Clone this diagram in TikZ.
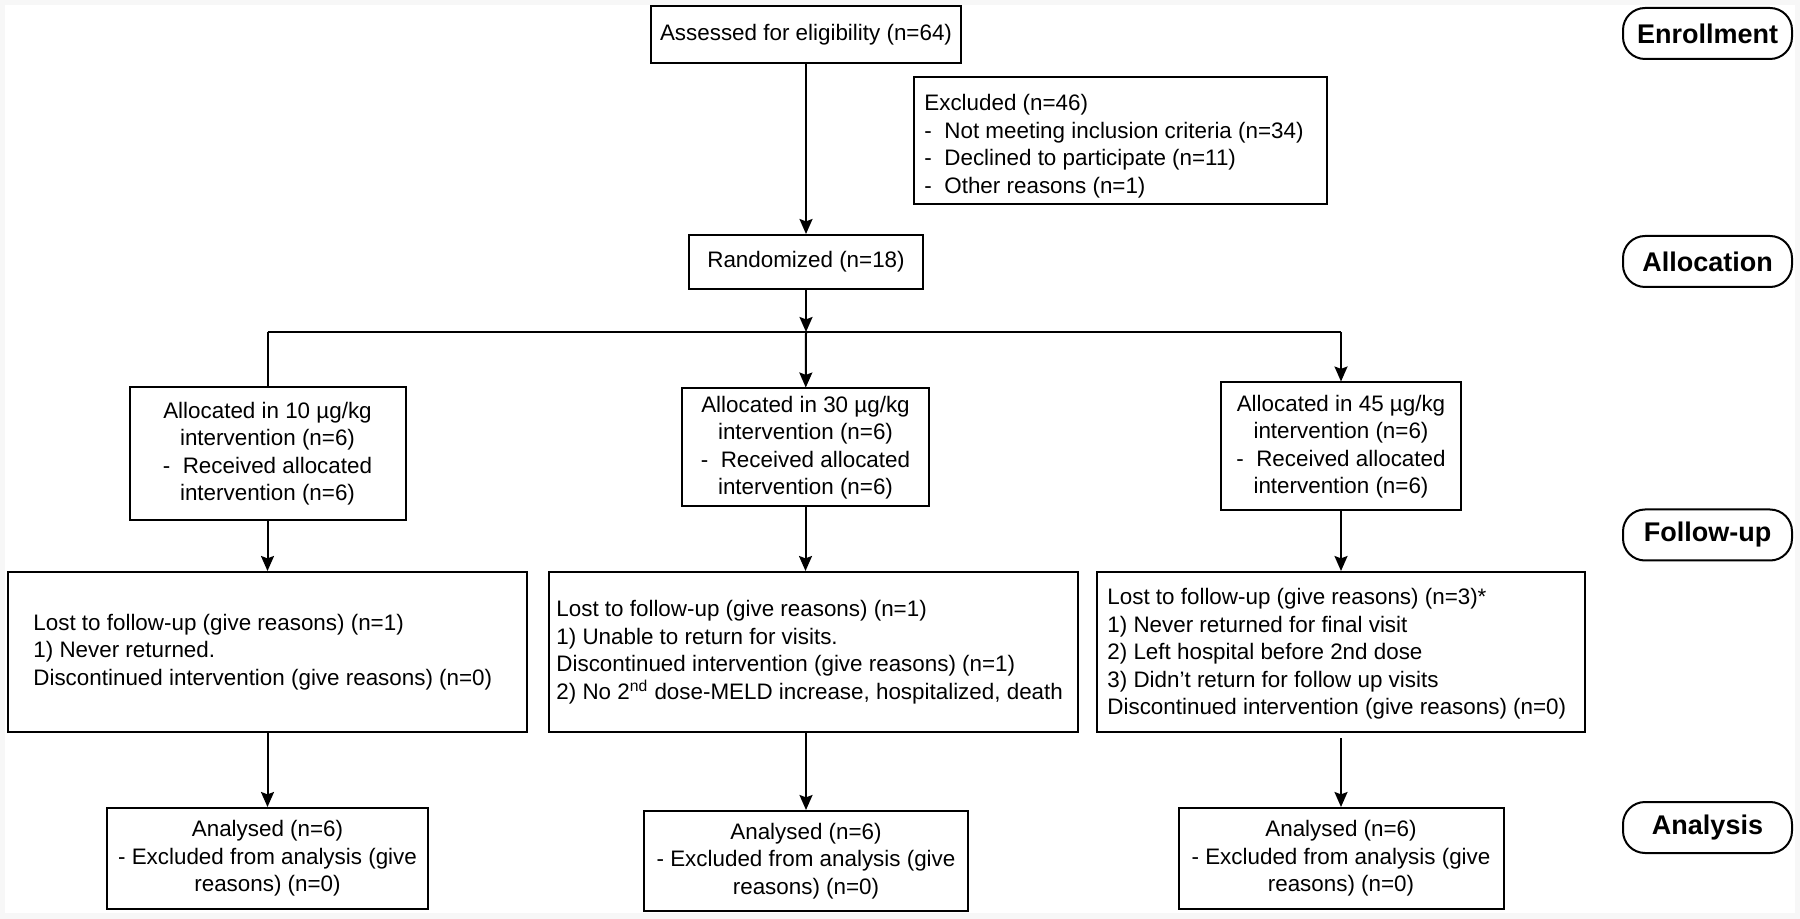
\documentclass[tikz,border=0pt]{standalone}
\usepackage{fontspec}
\setmainfont{Liberation Sans}
\usetikzlibrary{arrows.meta}
\newcommand{\bodyfont}{\fontsize{11.2}{13.75}\selectfont}
\newcommand{\labfont}{\fontsize{13.5}{16}\selectfont\bfseries}
\tikzset{
  box/.style={draw, line width=1pt, inner sep=0pt, font=\bodyfont, align=center},
  txt/.style={inner sep=0pt, font=\bodyfont, align=left, anchor=west},
  phase/.style={draw, line width=1pt, rounded corners=11pt, inner sep=0pt,
    minimum width=84.5pt, minimum height=25.5pt, font=\labfont},
  conn/.style={line width=1pt},
  arr/.style={line width=1pt, -{Stealth[length=7.5pt,width=6.5pt,inset=1.2pt]}},
}
\begin{document}
\begin{tikzpicture}[x=0.5pt,y=-0.5pt]
\useasboundingbox (0,0) rectangle (1800,919);
\fill[black!3] (0,0) rectangle (1800,919);
\fill[white] (5,5) rectangle (1795,913);

% phase labels
\node[phase] (enr) at (1707.5,33.5) {Enrollment};
\node[phase] (alc) at (1707.5,261.5) {Allocation};
\node[phase] (fol) at (1707.5,535) {Follow-up};
\node[phase] (ana) at (1707.5,827.5) {Analysis};

% enrollment
\node[box, minimum width=155pt, minimum height=28.5pt] (ass) at (806,35) {Assessed for eligibility (n=64)};
\node[box, minimum width=206.5pt, minimum height=63.5pt] (exc) at (1120.5,140.5) {};
\node[txt] (exct) at ([xshift=5.5pt,yshift=-2.8pt]exc.west) {Excluded (n=46)\\
\makebox[10pt][l]{-}Not meeting inclusion criteria (n=34)\\
\makebox[10pt][l]{-}Declined to participate (n=11)\\
\makebox[10pt][l]{-}Other reasons (n=1)};

\node[box, minimum width=117pt, minimum height=27pt] (rand) at (806,262) {Randomized (n=18)};

% allocation
\node[box, minimum width=138pt, minimum height=66.5pt] (a10) at (267.5,453.5)
  {Allocated in 10 µg/kg\\ intervention (n=6)\\ -~~Received allocated\\ intervention (n=6)};
\node[box, minimum width=123.5pt, minimum height=59pt] (a30) at (805.5,447.5)
  {Allocated in 30 µg/kg\\ intervention (n=6)\\ -~~Received allocated\\ intervention (n=6)};
\node[box, minimum width=120pt, minimum height=64pt] (a45) at (1341,446.5)
  {Allocated in 45 µg/kg\\ intervention (n=6)\\ -~~Received allocated\\ intervention (n=6)};

% follow-up
\node[box, minimum width=259.5pt, minimum height=80pt] (f10) at (267.5,652) {};
\node[txt] (f10t) at ([xshift=13pt]f10.west) {Lost to follow-up (give reasons) (n=1)\\
1) Never returned.\\
Discontinued intervention (give reasons) (n=0)};
\node[box, minimum width=264.5pt, minimum height=80pt] (f30) at (813.5,652) {};
\node[txt] (f30t) at ([xshift=4pt]f30.west) {Lost to follow-up (give reasons) (n=1)\\
1) Unable to return for visits.\\
Discontinued intervention (give reasons) (n=1)\\
2) No 2\textsuperscript{nd} dose-MELD increase, hospitalized, death};
\node[box, minimum width=244pt, minimum height=80pt] (f45) at (1341,652) {};
\node[txt] (f45t) at ([xshift=5.5pt,yshift=-1pt]f45.west) {Lost to follow-up (give reasons) (n=3)*\\
1) Never returned for final visit\\
2) Left hospital before 2nd dose\\
3) Didn’t return for follow up visits\\
Discontinued intervention (give reasons) (n=0)};

% analysis
\node[box, minimum width=160.5pt, minimum height=50.5pt] (an10) at (267.5,858.5)
  {Analysed (n=6)\\ - Excluded from analysis (give\\ reasons) (n=0)};
\node[box, minimum width=162pt, minimum height=50pt] (an30) at (806,861)
  {Analysed (n=6)\\ - Excluded from analysis (give\\ reasons) (n=0)};
\node[box, minimum width=162.5pt, minimum height=50.5pt] (an45) at (1341,858.5)
  {Analysed (n=6)\\ - Excluded from analysis (give\\ reasons) (n=0)};

% connectors
\coordinate (split) at (806,332);
\coordinate (sl) at (267.5,332);
\coordinate (sr) at (1341,332);
\draw[arr] (ass) -- (rand);
\draw[arr] (rand) -- (split);
\draw[conn] (sl) -- (sr);
\draw[conn] (sl) -- (a10);
\draw[arr] (split) -- (a30);
\draw[arr] (sr) -- (a45);
\draw[arr] (a10) -- (f10);
\draw[arr] (a30.south) -- (a30.south |- f30.north);
\draw[arr] (a45) -- (f45);
\draw[arr] (f10) -- (an10);
\draw[arr] (an30.north |- f30.south) -- (an30.north);
\draw[arr, shorten <=2.5pt] (f45) -- (an45);
\end{tikzpicture}
\end{document}
